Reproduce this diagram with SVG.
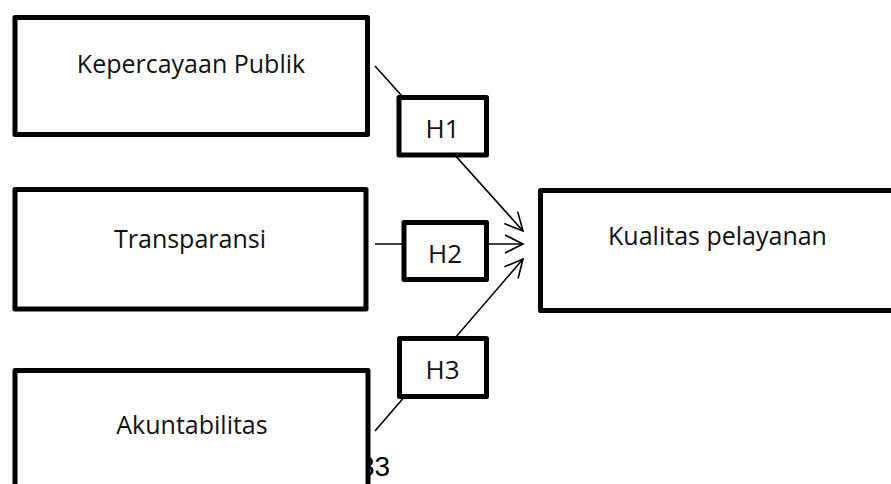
<svg xmlns="http://www.w3.org/2000/svg" width="891" height="484" viewBox="0 0 891 484">
<style>
.box{fill:#fff;stroke:#000;stroke-width:5;stroke-linejoin:round}
.lbl{font-family:"Open Sans","Noto Sans",sans-serif;font-size:25px;fill:#111;text-anchor:middle}
.h{font-family:"Open Sans","Noto Sans",sans-serif;font-size:26px;fill:#111;text-anchor:middle}
.conn{stroke:#000;stroke-width:1.6;fill:none}
</style>
<defs>
<marker id="arr" markerUnits="userSpaceOnUse" markerWidth="24" markerHeight="24" viewBox="-21 -12 24 24" refX="0" refY="0" orient="auto" overflow="visible">
<path d="M-18,-9 L0,0 L-18,9" fill="none" stroke="#000" stroke-width="1.6"/>
</marker>
</defs>
<rect width="891" height="484" fill="#fff"/>
<g id="connectors">
<line class="conn" x1="375" y1="66" x2="523" y2="231" marker-end="url(#arr)"/>
<line class="conn" x1="375" y1="244" x2="523" y2="244" marker-end="url(#arr)"/>
<line class="conn" x1="375" y1="431" x2="523" y2="259" marker-end="url(#arr)"/>
</g>
<text x="359" y="476" font-family="Liberation Sans, Arial, sans-serif" font-size="28" fill="#000">33</text>
<g id="node-kepercayaan">
<rect class="box" x="15" y="17.5" width="352.5" height="117"/>
<text class="lbl" x="191" y="73">Kepercayaan Publik</text>
</g>
<g id="node-transparansi">
<rect class="box" x="15" y="189.5" width="351" height="119.5"/>
<text class="lbl" x="190" y="248">Transparansi</text>
</g>
<g id="node-akuntabilitas">
<rect class="box" x="15" y="370.5" width="353" height="130"/>
<text class="lbl" x="192" y="433.5">Akuntabilitas</text>
</g>
<g id="node-kualitas">
<rect class="box" x="540.5" y="190.5" width="370" height="120"/>
<text class="lbl" x="717.5" y="245">Kualitas pelayanan</text>
</g>
<g id="node-h1">
<rect class="box" x="399" y="97.5" width="87.5" height="57.5"/>
<text class="h" x="442.5" y="138">H1</text>
</g>
<g id="node-h2">
<rect class="box" x="404" y="222.5" width="82.5" height="57"/>
<text class="h" x="445" y="263">H2</text>
</g>
<g id="node-h3">
<rect class="box" x="399.5" y="338.5" width="87" height="58"/>
<text class="h" x="442.5" y="379">H3</text>
</g>
</svg>
